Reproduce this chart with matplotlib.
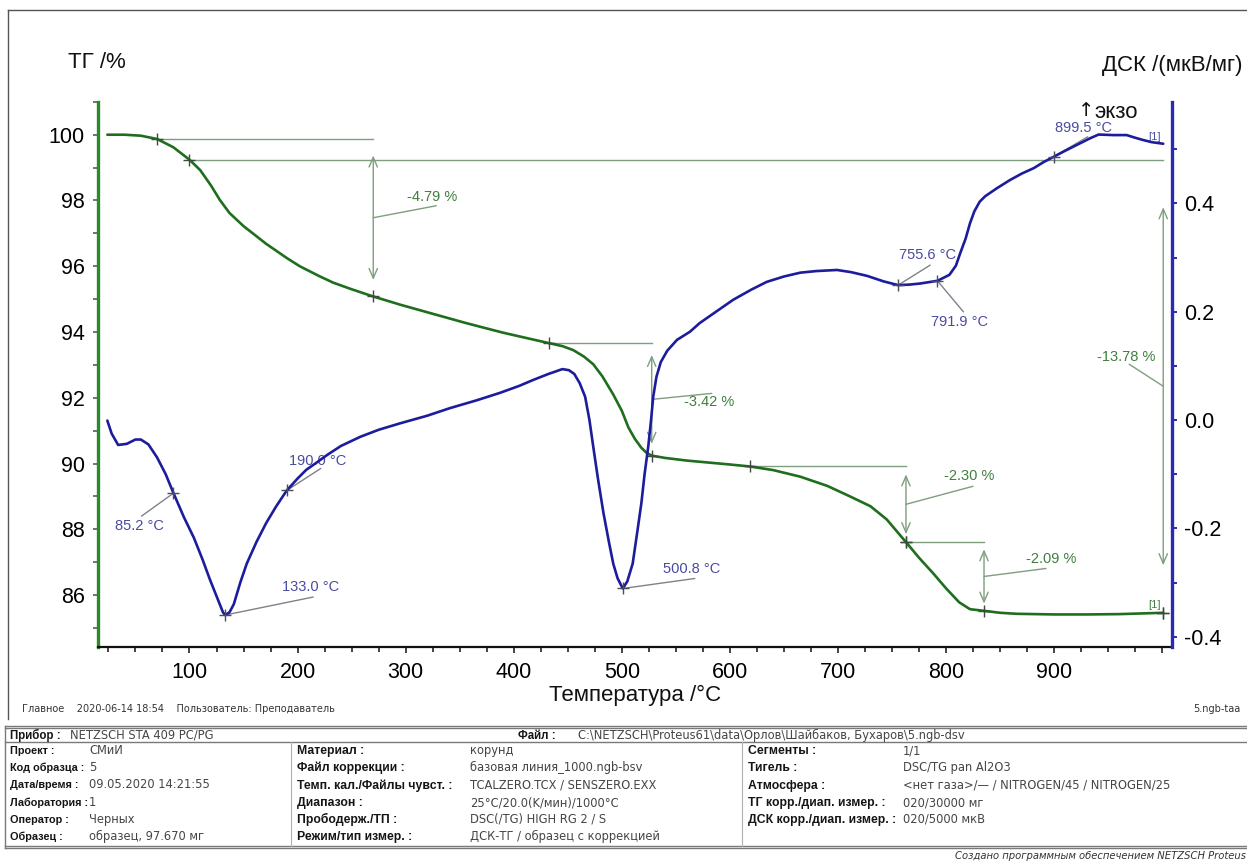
import matplotlib
matplotlib.use("Agg")
import numpy as np
import matplotlib.pyplot as plt
from matplotlib import font_manager
from matplotlib.ticker import MultipleLocator, FuncFormatter
from matplotlib.lines import Line2D

plt.rcParams['font.family'] = ['Liberation Sans', 'DejaVu Sans']
plt.rcParams['axes.unicode_minus'] = False

# ---------------- measured data ----------------
# TG curve: temperature (°C) and residual mass (%)
tg_temp = [24, 40, 55, 70, 85, 100, 110, 120, 128, 137, 150, 171, 190, 202, 220,
           233, 250, 270, 295, 320, 356, 390, 410, 432.8, 445, 455, 465, 473.5,
           482, 492, 500, 506, 512, 518, 523, 527.6, 540, 560, 580, 600, 618.5,
           640, 665, 690, 711, 730, 745, 762.8, 775, 788, 800, 812, 822, 835,
           850, 865, 900, 930, 960, 980, 1000.8]
tg_mass = [100.00, 100.00, 99.97, 99.87, 99.62, 99.24, 98.92, 98.45, 98.02, 97.62,
           97.22, 96.68, 96.25, 96.00, 95.70, 95.50, 95.30, 95.08, 94.83, 94.60,
           94.27, 93.98, 93.83, 93.66, 93.57, 93.45, 93.25, 93.02, 92.65, 92.10,
           91.60, 91.10, 90.75, 90.48, 90.32, 90.24, 90.17, 90.09, 90.03, 89.97,
           89.91, 89.80, 89.60, 89.32, 89.00, 88.70, 88.30, 87.61, 87.13, 86.66,
           86.20, 85.78, 85.57, 85.52, 85.46, 85.43, 85.41, 85.41, 85.42, 85.44,
           85.46]

# DSC curve: temperature (°C) and signal (µV/mg)
dsc_temp = [24, 28, 34, 42, 50, 55, 62, 70, 78, 85.2, 95, 104, 112, 119, 126, 131,
            133, 137, 141, 147, 153, 162, 171, 180, 190, 200, 208, 218, 227, 240,
            258, 275, 295, 320, 341, 365, 387, 405, 418, 432, 445, 451, 456, 461,
            466, 470, 473.5, 478, 483, 488, 492, 496, 500.8, 505, 510, 514, 518,
            521, 524.4, 527, 529, 532, 536, 542, 551, 563, 572, 590, 603, 620, 634,
            650, 665, 680, 699, 712, 727, 742, 755.6, 766, 776, 791.9, 803, 809,
            813, 818, 822, 826, 831, 836, 847, 859, 870, 881, 890, 899.5, 910, 921,
            933, 941, 955, 967, 975, 982, 990, 1000.8]
dsc_signal = [-0.001, -0.025, -0.046, -0.044, -0.036, -0.036, -0.045, -0.069, -0.100,
              -0.135, -0.180, -0.217, -0.257, -0.295, -0.330, -0.355, -0.360, -0.355,
              -0.340, -0.300, -0.265, -0.225, -0.190, -0.160, -0.130, -0.108, -0.092,
              -0.078, -0.065, -0.048, -0.031, -0.018, -0.006, 0.008, 0.022, 0.036,
              0.050, 0.063, 0.074, 0.085, 0.094, 0.092, 0.085, 0.068, 0.043, 0.000,
              -0.049, -0.110, -0.172, -0.225, -0.265, -0.292, -0.311, -0.298, -0.265,
              -0.210, -0.154, -0.100, -0.049, 0.000, 0.043, 0.080, 0.107, 0.128,
              0.148, 0.163, 0.179, 0.204, 0.222, 0.241, 0.255, 0.265, 0.272, 0.275,
              0.277, 0.273, 0.266, 0.256, 0.249, 0.250, 0.252, 0.257, 0.268, 0.285,
              0.308, 0.335, 0.363, 0.385, 0.403, 0.413, 0.428, 0.443, 0.455, 0.465,
              0.476, 0.486, 0.497, 0.508, 0.520, 0.527, 0.526, 0.526, 0.521, 0.517,
              0.513, 0.510]

# TG mass-change evaluations
tg_step_start = [70.0, 432.8, 618.5, 762.8, 100.0]
tg_step_end = [270.0, 527.6, 762.8, 835.0, 1000.8]
tg_step_change = [-4.79, -3.42, -2.30, -2.09, -13.78]
tg_step_labels = ["-4.79 %", "-3.42 %", "-2.30 %", "-2.09 %", "-13.78 %"]

# DSC characteristic temperatures
dsc_peak_temp = [85.2, 133.0, 190.0, 500.8, 755.6, 791.9, 899.5]
dsc_peak_labels = ["85.2 °C", "133.0 °C", "190.0 °C", "500.8 °C",
                   "755.6 °C", "791.9 °C", "899.5 °C"]

x_tick_labels = [100, 200, 300, 400, 500, 600, 700, 800, 900]
tg_ticks_major = 2
dsc_ticks_major = 0.2

# ---------------- info table ----------------
header_left = ("Прибор :", "NETZSCH STA 409 PC/PG")
header_right = ("Файл :", "C:\\NETZSCH\\Proteus61\\data\\Орлов\\Шайбаков, Бухаров\\5.ngb-dsv")
info_col1 = [("Проект :", "СМиИ"), ("Код образца :", "5"),
             ("Дата/время :", "09.05.2020 14:21:55"), ("Лаборатория :", "1"),
             ("Оператор :", "Черных"), ("Образец :", "образец, 97.670 мг")]
info_col2 = [("Материал :", "корунд"),
             ("Файл коррекции :", "базовая линия_1000.ngb-bsv"),
             ("Темп. кал./Файлы чувст. :", "TCALZERO.TCX / SENSZERO.EXX"),
             ("Диапазон :", "25°C/20.0(K/мин)/1000°C"),
             ("Прободерж./ТП :", "DSC(/TG) HIGH RG 2 / S"),
             ("Режим/тип измер. :", "ДСК-ТГ / образец с коррекцией")]
info_col3 = [("Сегменты :", "1/1"), ("Тигель :", "DSC/TG pan Al2O3"),
             ("Атмосфера :", "<нет газа>/— / NITROGEN/45 / NITROGEN/25"),
             ("ТГ корр./диап. измер. :", "020/30000 мг"),
             ("ДСК корр./диап. измер. :", "020/5000 мкВ")]

# ---------------- styling ----------------
W, H = 1247, 861
TG_COLOR = "#1e6e1e"
TG_AXIS = "#2a8a2a"
TG_NOTE = "#7e9e7e"
TG_TEXT = "#3f7f3f"
DSC_COLOR = "#1c1c9c"
DSC_AXIS = "#2a2ab4"
DSC_TEXT = "#4a4aa0"
LEADER = "#80808c"

try:
    font_manager.findfont("Liberation Sans Narrow", fallback_to_default=False)
    NARROW, NARROW_SIZE = "Liberation Sans Narrow", 8.6
except ValueError:
    NARROW, NARROW_SIZE = "Liberation Sans", 7.8

fig = plt.figure(figsize=(W / 100, H / 100), dpi=100)
fig.patch.set_facecolor("white")


def fx(x):
    return x / W


def fy(y):
    return 1 - y / H


def hline_px(x0, x1, y, **kw):
    fig.add_artist(Line2D([fx(x0), fx(x1)], [fy(y), fy(y)],
                          transform=fig.transFigure, **kw))


def vline_px(x, y0, y1, **kw):
    fig.add_artist(Line2D([fx(x), fx(x)], [fy(y0), fy(y1)],
                          transform=fig.transFigure, **kw))


left_px, right_px, top_px, bottom_px = 97.7, 1172.0, 101.5, 647.0
ax = fig.add_axes([fx(left_px), fy(bottom_px), (right_px - left_px) / W,
                   (bottom_px - top_px) / H])
ax2 = ax.twinx()
ax.set_facecolor("none")

ax.set_xlim(15.1, 1008.9)
ax.set_ylim(84.42, 101.01)
ax2.set_ylim(-0.419, 0.588)

# spines
for s in ("top", "right"):
    ax.spines[s].set_visible(False)
for s in ("top", "left", "bottom"):
    ax2.spines[s].set_visible(False)
ax.spines["left"].set_color(TG_AXIS)
ax.spines["left"].set_linewidth(2.4)
ax.spines["bottom"].set_color("#111111")
ax.spines["bottom"].set_linewidth(1.6)
ax2.spines["right"].set_color(DSC_AXIS)
ax2.spines["right"].set_linewidth(2.4)

ax.xaxis.set_major_locator(MultipleLocator(100))
ax.xaxis.set_minor_locator(MultipleLocator(25))
ax.xaxis.set_major_formatter(
    FuncFormatter(lambda v, p: f"{v:.0f}" if round(v) in x_tick_labels else ""))
ax.yaxis.set_major_locator(MultipleLocator(tg_ticks_major))
ax.yaxis.set_minor_locator(MultipleLocator(tg_ticks_major / 2))
ax2.yaxis.set_major_locator(MultipleLocator(dsc_ticks_major))
ax2.yaxis.set_minor_locator(MultipleLocator(dsc_ticks_major / 2))
ax2.yaxis.set_major_formatter(FuncFormatter(lambda v, p: f"{v:.1f}"))

ax.tick_params(axis="x", which="major", direction="out", length=4, width=1.1,
               color="#111111", labelsize=15.5, pad=7)
ax.tick_params(axis="x", which="minor", direction="out", length=3.5, width=1.1,
               color="#111111")
ax.tick_params(axis="y", which="both", direction="out", length=3.5, width=1.1,
               color="#3a5a3a", labelsize=15.5, pad=6)
ax2.tick_params(axis="y", which="both", direction="out", length=3.5, width=1.4,
                color=DSC_AXIS, labelsize=15.5, pad=5)

# curves
ax.plot(tg_temp, tg_mass, color=TG_COLOR, lw=1.9, zorder=4, solid_capstyle="round")
ax2.plot(dsc_temp, dsc_signal, color=DSC_COLOR, lw=1.9, zorder=4,
         solid_capstyle="round")

# TG mass-change evaluations
label_layout = [  # leader end and text anchor offsets in pixels (dx, dy down)
    ((63, -12), (34, -21)),
    ((60, -6), (32, 3)),
    ((67, -18), (38, -28)),
    ((62, -8), (42, -17)),
    ((-34, -22), (-66, -29)),
]
for t0, t1, dm, lab, lay in zip(tg_step_start, tg_step_end, tg_step_change,
                                tg_step_labels, label_layout):
    m0 = float(np.interp(t0, tg_temp, tg_mass))
    m1 = m0 + dm
    ax.plot([t0, t1], [m0, m0], color=TG_NOTE, lw=1.0, zorder=3)
    ax.plot([t0, t1], [m0, m1], ls="none", marker="+", ms=9, mew=1.0,
            color="#3c4c3c", zorder=5)
    gap = 0.105 * (m0 - m1)
    ax.annotate("", xy=(t1, m1 + gap), xytext=(t1, m0 - gap),
                arrowprops=dict(arrowstyle="<->,head_length=0.7,head_width=0.3",
                                color=TG_NOTE, lw=1.0, shrinkA=0, shrinkB=0),
                zorder=3)
    mid = (m0 + m1) / 2
    (ldx, ldy), (tdx, tdy) = lay
    ax.annotate("", xy=(t1, mid), xytext=(ldx, -ldy), textcoords="offset pixels",
                arrowprops=dict(arrowstyle="-", color=TG_NOTE, lw=1.0,
                                shrinkA=0, shrinkB=0))
    ax.annotate(lab, xy=(t1, mid), xytext=(tdx, -tdy), textcoords="offset pixels",
                ha="left", va="center", fontsize=10.5, color=TG_TEXT)

# DSC characteristic temperatures
peak_layout = [
    ((-32, 23), (-58, 33)),
    ((88, -18), (57, -28)),
    ((34, -22), (2, -29)),
    ((72, -10), (40, -19)),
    ((32, -20), (1, -30)),
    ((26, 31), (-6, 41)),
    ((34, -20), (1, -29)),
]
for t, lab, lay in zip(dsc_peak_temp, dsc_peak_labels, peak_layout):
    v = float(np.interp(t, dsc_temp, dsc_signal))
    ax2.plot([t], [v], ls="none", marker="+", ms=9, mew=1.0, color="#4c4c5c",
             zorder=5)
    (ldx, ldy), (tdx, tdy) = lay
    ax2.annotate("", xy=(t, v), xytext=(ldx, -ldy), textcoords="offset pixels",
                 arrowprops=dict(arrowstyle="-", color=LEADER, lw=1.0,
                                 shrinkA=0, shrinkB=0))
    ax2.annotate(lab, xy=(t, v), xytext=(tdx, -tdy), textcoords="offset pixels",
                 ha="left", va="center", fontsize=10.5, color=DSC_TEXT)

# segment markers at curve ends
ax.annotate("[1]", xy=(tg_temp[-1], tg_mass[-1]), xytext=(-15, 8),
            textcoords="offset pixels", ha="left", va="center", fontsize=8,
            color=TG_TEXT)
ax.plot([tg_temp[-1]], [tg_mass[-1]], ls="none", marker="+", ms=9, mew=1.0,
        color="#3c4c3c", zorder=5)
ax2.annotate("[1]", xy=(dsc_temp[-1], dsc_signal[-1]), xytext=(-15, 7),
             textcoords="offset pixels", ha="left", va="center", fontsize=8,
             color=DSC_TEXT)

# axis titles
fig.text(fx(68), fy(63), "ТГ /%", ha="left", va="center", fontsize=16,
         color="#111111")
fig.text(fx(1243), fy(65), "ДСК /(мкВ/мг)", ha="right", va="center", fontsize=16,
         color="#111111")
fig.text(fx(1078), fy(111), "↑", ha="left", va="center", fontsize=14,
         color="#111111", family=["DejaVu Sans"])
fig.text(fx(1094), fy(112), "экзо", ha="left", va="center", fontsize=16,
         color="#111111")
ax.set_xlabel("Температура /°C", fontsize=16, color="#111111")
ax.xaxis.set_label_coords(0.5, -0.069)

# frame around the plot page
hline_px(8, 1247, 10, color="#555555", lw=1.0)
vline_px(8, 10, 719, color="#555555", lw=1.0)

# run information line
fig.text(fx(22), fy(709),
         "Главное    2020-06-14 18:54    Пользователь: Преподаватель",
         ha="left", va="center", fontsize=7, color="#333333",
         family=["DejaVu Sans"])
fig.text(fx(1240), fy(709), "5.ngb-taa", ha="right", va="center", fontsize=7,
         color="#333333", family=["DejaVu Sans"])

# info table
tbl_kw = dict(color="#7a7a7a", lw=1.0)
hline_px(5, 1247, 726, **tbl_kw)
hline_px(5, 1247, 728, **tbl_kw)
hline_px(5, 1247, 742, **tbl_kw)
hline_px(5, 1247, 846, **tbl_kw)
hline_px(5, 1247, 848, **tbl_kw)
vline_px(5, 726, 848, **tbl_kw)
vline_px(291, 742, 846, color="#b0b0b0", lw=0.8)
vline_px(742, 742, 846, color="#b0b0b0", lw=0.8)


def lab_kw(size, family=("Liberation Sans", "DejaVu Sans")):
    return dict(ha="left", va="baseline", fontsize=size, fontweight="bold",
                color="#151515", family=list(family))


val_kw = dict(ha="left", va="baseline", fontsize=8.3, color="#454545",
              family=["DejaVu Sans"])
BASE = 4  # baseline offset below the row centre, px

fig.text(fx(10), fy(735 + BASE), header_left[0], **lab_kw(8.3))
fig.text(fx(70), fy(735 + BASE), header_left[1], **val_kw)
fig.text(fx(518), fy(735 + BASE), header_right[0], **lab_kw(8.3))
fig.text(fx(578), fy(735 + BASE), header_right[1], **val_kw)

row_y = [750, 767, 784.5, 802, 819, 836]
for (lab, val), y in zip(info_col1, row_y):
    fig.text(fx(10), fy(y + BASE), lab, **lab_kw(NARROW_SIZE, (NARROW, "DejaVu Sans")))
    fig.text(fx(89), fy(y + BASE), val, **val_kw)
for (lab, val), y in zip(info_col2, row_y):
    fig.text(fx(297), fy(y + BASE), lab, **lab_kw(8.8))
    fig.text(fx(470), fy(y + BASE), val, **val_kw)
for (lab, val), y in zip(info_col3, row_y):
    fig.text(fx(748), fy(y + BASE), lab, **lab_kw(8.8))
    fig.text(fx(903), fy(y + BASE), val, **val_kw)

fig.text(fx(955), fy(856), "Создано программным обеспечением NETZSCH Proteus",
         ha="left", va="center", fontsize=7.2, style="italic", color="#333333",
         family=["DejaVu Sans"])

fig.savefig("out.png", dpi=100)
